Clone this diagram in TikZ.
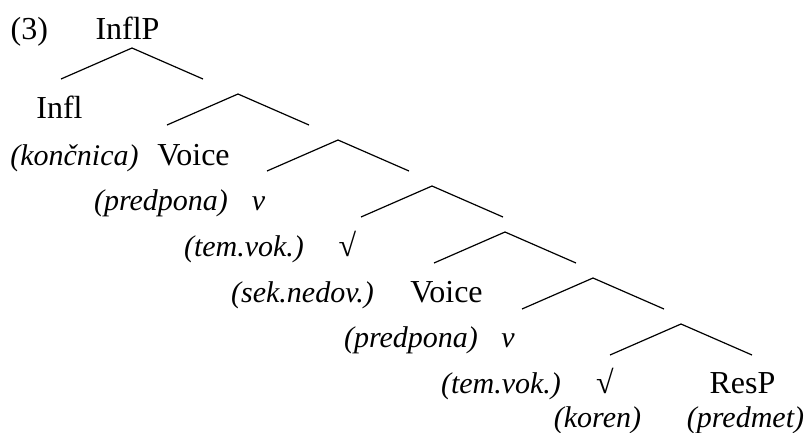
\documentclass[tikz,border=0pt]{standalone}
\usepackage{fontspec}
\setmainfont{Liberation Serif}
\usepackage{tikz}

\tikzset{lab/.style={inner sep=0pt,anchor=base,font=\fontsize{32}{37}\selectfont},
  gloss/.style={lab,font=\fontsize{30}{35}\selectfont\itshape}}

\begin{document}
\begin{tikzpicture}[x=1pt,y=-1pt,line width=1.2pt]
\useasboundingbox (0,0) rectangle (806,432);
  \node[lab,anchor=base west] (ex) at (10,39) {(3)};
  \node[lab] (inflp) at (127.5,39) {InflP};
  \node[lab] (infl) at (59.5,118) {Infl};
  \node[gloss] (koncnica) at (74.5,165) {(končnica)};
  \node[lab] (voiceA) at (193.5,165) {Voice};
  \node[gloss] (predponaA) at (161,210) {(predpona)};
  \node[gloss] (vA) at (258.5,210) {v};
  \node[gloss] (temvokA) at (244,256) {(tem.vok.)};
  \node[lab] (rootA) at (347.5,256) {√};
  \node[gloss] (seknedov) at (302.5,302) {(sek.nedov.)};
  \node[lab] (voiceB) at (446.5,302) {Voice};
  \node[gloss] (predponaB) at (411,347) {(predpona)};
  \node[gloss] (vB) at (508,347) {v};
  \node[gloss] (temvokB) at (501,393) {(tem.vok.)};
  \node[lab] (rootB) at (605,393) {√};
  \node[lab] (resp) at (742.5,393) {ResP};
  \node[gloss] (koren) at (597.5,427) {(koren)};
  \node[gloss] (predmet) at (745.5,427) {(predmet)};
  % branching points
  \coordinate (b1) at (132,48);
  \coordinate (b2) at (238,94);
  \coordinate (b3) at (338,140);
  \coordinate (b4) at (432,186);
  \coordinate (b5) at (505,232);
  \coordinate (b6) at (593,278);
  \coordinate (b7) at (681,324);
  \foreach \i in {1,...,7}
    \draw ([shift={(-71,31)}]b\i) -- (b\i) -- ++(71,31);
\end{tikzpicture}
\end{document}
